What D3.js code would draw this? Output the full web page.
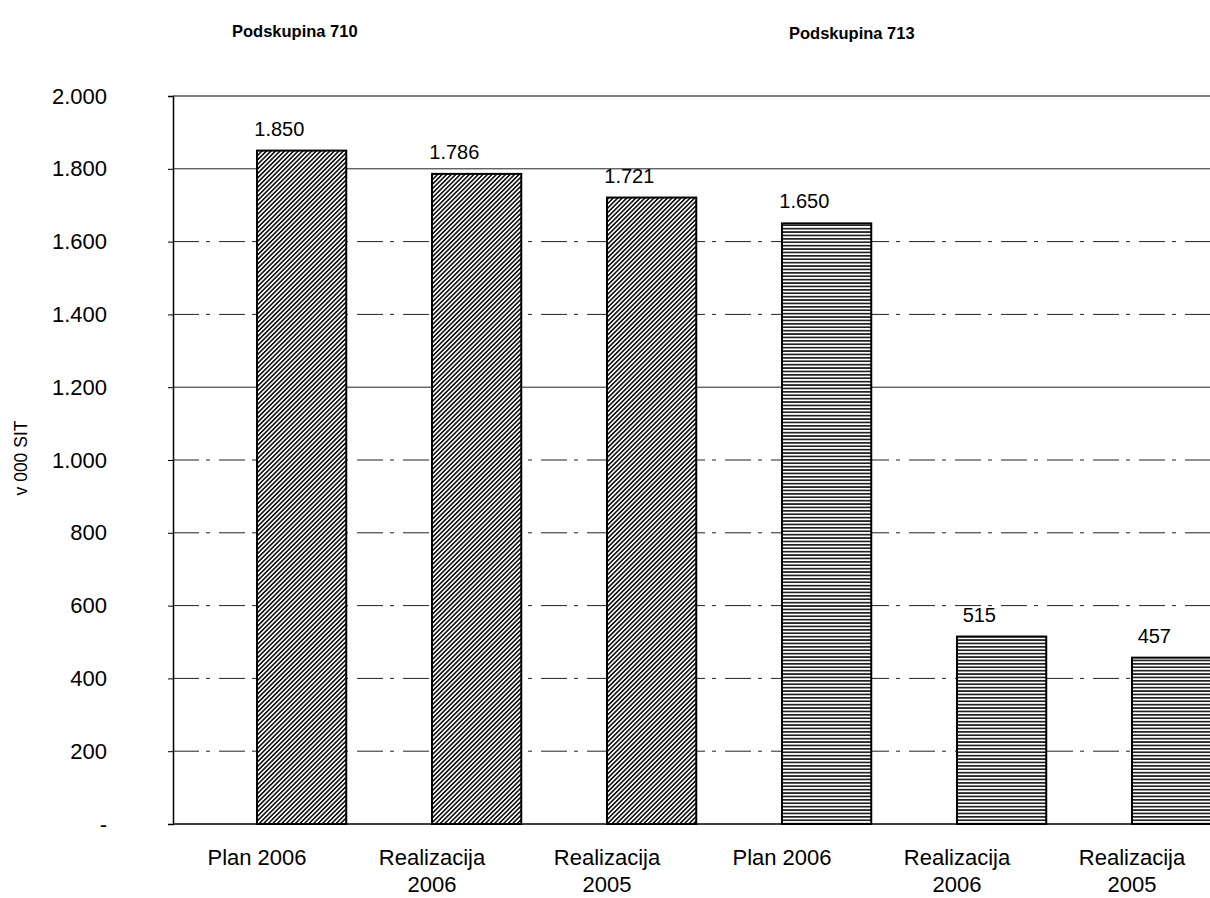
<!DOCTYPE html>
<html>
<head>
<meta charset="utf-8">
<script src="https://cdn.jsdelivr.net/npm/d3@7"></script>
<style>
  body { margin: 0; background: #fff; }
  text { font-family: "Liberation Sans", Arial, sans-serif; fill: #000; }
</style>
</head>
<body>
<svg width="1210" height="898"></svg>
<script>
// data
const categories = ["Plan 2006", "Realizacija 2006", "Realizacija 2005", "Plan 2006 ", "Realizacija 2006 ", "Realizacija 2005 "];
const values = [1850, 1786, 1721, 1650, 515, 457];
const groups = ["710", "710", "710", "713", "713", "713"];
const groupTitles = ["Podskupina 710", "Podskupina 713"];
const yTicks = [0, 200, 400, 600, 800, 1000, 1200, 1400, 1600, 1800, 2000];

const svg = d3.select("svg");
const plotLeft = 173, plotTop = 96, plotBottom = 824, plotRight = 1260;

const fmt = v => v === 0 ? "-" : d3.format(",")(v).replace(/,/g, ".");

const y = d3.scaleLinear().domain([0, 2000]).range([plotBottom, plotTop]);
// category bands; the bar sits in the right half of each band
const x = d3.scaleBand().domain(categories).range([169.5, 169.5 + 6 * 175]).padding(0);
const barW = x.bandwidth() * 0.51;
const barX = d => x(d) + x.bandwidth() / 2;

// patterns
const defs = svg.append("defs");
const diag = defs.append("pattern").attr("id", "diag")
  .attr("patternUnits", "userSpaceOnUse").attr("width", 3.2).attr("height", 3.2)
  .attr("patternTransform", "rotate(45)");
diag.append("rect").attr("width", 3.2).attr("height", 3.2).attr("fill", "#fff");
diag.append("rect").attr("width", 1.6).attr("height", 3.2).attr("fill", "#111");

const horiz = defs.append("pattern").attr("id", "horiz")
  .attr("patternUnits", "userSpaceOnUse").attr("width", 8).attr("height", 3.4);
horiz.append("rect").attr("width", 8).attr("height", 3.4).attr("fill", "#fff");
horiz.append("rect").attr("y", 0).attr("width", 8).attr("height", 1.7).attr("fill", "#222");

// gridlines
svg.append("g").selectAll("line")
  .data(yTicks.filter(d => d > 0 && d < 2000))
  .join("line")
  .attr("x1", plotLeft).attr("x2", plotRight)
  .attr("y1", d => y(d)).attr("y2", d => y(d))
  .attr("stroke", "#222").attr("stroke-width", 1)
  .attr("stroke-dasharray", d => d === 1800 || d === 1200 ? "none" : "26,7,4,9");

// top border
svg.append("line").attr("x1", plotLeft).attr("x2", plotRight)
  .attr("y1", y(2000)).attr("y2", y(2000)).attr("stroke", "#000").attr("stroke-width", 1.2);

// y axis
const yAxis = d3.axisLeft(y).tickValues(yTicks).tickFormat(fmt).tickSize(5).tickPadding(61);
const gy = svg.append("g").attr("transform", `translate(${plotLeft},0)`).call(yAxis);
gy.select(".domain").attr("stroke", "#000").attr("stroke-width", 1.5);
gy.selectAll(".tick line").attr("stroke", "#000");
gy.selectAll(".tick text").attr("font-size", 22).attr("font-family", "Liberation Sans, Arial, sans-serif");

// x axis line
svg.append("line").attr("x1", plotLeft).attr("x2", plotRight)
  .attr("y1", plotBottom).attr("y2", plotBottom).attr("stroke", "#000").attr("stroke-width", 1.5);

// bars
svg.append("g").selectAll("rect")
  .data(categories)
  .join("rect")
  .attr("x", d => barX(d))
  .attr("width", barW)
  .attr("y", (d, i) => y(values[i]))
  .attr("height", (d, i) => plotBottom - y(values[i]))
  .attr("fill", (d, i) => groups[i] === "710" ? "url(#diag)" : "url(#horiz)")
  .attr("stroke", "#000").attr("stroke-width", 2);

// value labels
svg.append("g").selectAll("text")
  .data(categories)
  .join("text")
  .attr("x", d => barX(d) + barW * 0.25)
  .attr("y", (d, i) => y(values[i]) - 15)
  .attr("text-anchor", "middle")
  .attr("font-size", 20)
  .text((d, i) => fmt(values[i]));

// category labels
const xl = svg.append("g").selectAll("text")
  .data(categories)
  .join("text")
  .attr("x", d => x(d) + x.bandwidth() / 2)
  .attr("y", 865)
  .attr("text-anchor", "middle")
  .attr("font-size", 22);
xl.each(function(d) {
  const words = d.trim().split(" ");
  const t = d3.select(this);
  if (words[0] === "Plan") {
    t.append("tspan").text(d.trim());
  } else {
    t.append("tspan").attr("x", t.attr("x")).text(words[0]);
    t.append("tspan").attr("x", t.attr("x")).attr("dy", 27).text(words[1]);
  }
});

// group titles
svg.append("text").attr("x", 232).attr("y", 37).attr("font-size", 16.5).attr("font-weight", "bold").text(groupTitles[0]);
svg.append("text").attr("x", 789).attr("y", 39).attr("font-size", 16.5).attr("font-weight", "bold").text(groupTitles[1]);

// y label
svg.append("text")
  .attr("transform", "translate(27,458) rotate(-90)")
  .attr("text-anchor", "middle")
  .attr("font-size", 17.5)
  .text("v 000 SIT");
</script>
</body>
</html>
